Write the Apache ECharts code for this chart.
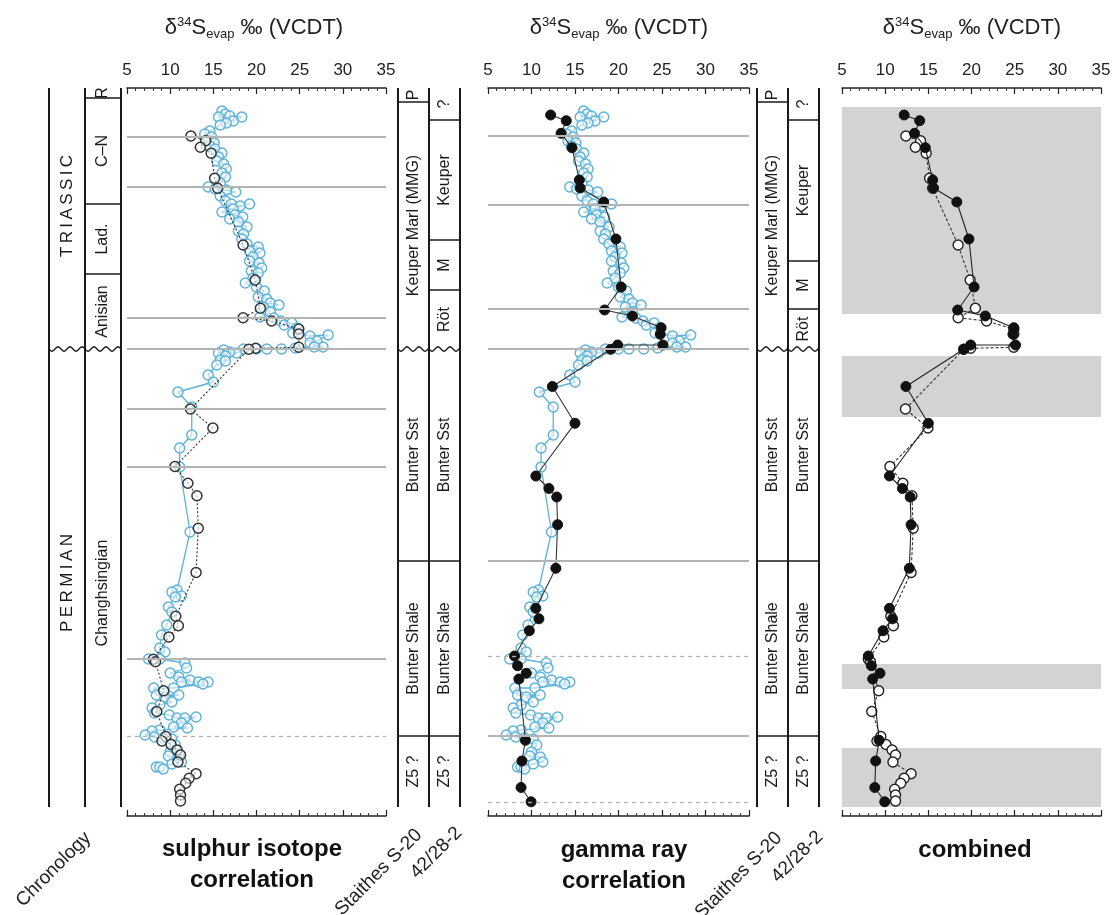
<!DOCTYPE html>
<html><head><meta charset="utf-8">
<script src="https://cdn.jsdelivr.net/npm/echarts@6/dist/echarts.min.js"></script>
<style>html,body{margin:0;padding:0;background:#fff}#c{width:1114px;height:915px}</style>
</head><body><div id="c"></div>
<script>
const FONT = 'Arial, "Liberation Sans", Helvetica, sans-serif';
const DEPTH_MAX = 72.8;   // relative stratigraphic depth units (top of section = 0)
const X_MIN = 5, X_MAX = 35, X_STEP = 5;

// Staithes S-20 high resolution d34S record (used in both correlation panels)
const staithesD34S = [16.0,16.4,15.6,16.9,18.3,17.3,16.5,15.8,14.6,14.0,14.8,14.2,15.1,14.6,15.2,16.0,15.6,15.4,16.2,16.5,16.0,16.4,15.8,14.4,15.2,16.5,17.6,15.8,16.4,17.1,18.1,19.2,17.3,16.0,17.5,18.4,16.9,17.9,18.9,17.9,18.5,18.3,18.9,20.2,19.2,20.4,19.6,19.2,20.3,20.6,19.4,20.2,19.6,18.7,20.0,20.9,20.2,21.2,21.6,22.6,20.8,21.6,20.4,22.0,22.8,23.2,24.1,24.7,24.2,26.2,28.3,27.0,26.2,27.7,26.7,24.5,22.9,21.2,20.0,18.5,17.7,16.9,16.2,15.6,16.4,15.8,16.4,15.4,14.4,15.0,10.9,12.5,12.5,11.1,11.1,12.3,10.8,10.2,11.3,10.6,9.8,10.2,9.6,9.0,8.8,9.4,7.5,8.8,11.7,11.9,10.0,11.0,12.3,11.3,13.3,14.4,13.8,10.4,8.1,8.4,11.0,9.4,10.2,8.8,7.9,8.2,9.9,10.8,11.7,13.0,11.3,10.4,12.0,8.8,7.9,7.1,8.2,9.2,10.2,10.6,10.0,9.8,11.0,11.3,10.2,8.4,8.8,9.2];
const staithesDepth = [2.3,2.6,2.9,2.8,2.9,3.3,3.5,3.7,4.3,4.6,4.9,5.3,5.5,5.8,6.1,6.5,6.9,7.3,7.6,8.1,8.5,8.9,9.5,9.9,10.1,10.2,10.4,10.8,11.3,11.6,11.8,11.6,12.1,12.4,12.7,12.9,13.1,13.4,13.9,14.3,14.6,15.1,15.6,15.9,16.3,16.5,16.9,17.3,17.5,18.0,18.3,18.5,19.0,19.5,19.9,20.3,20.9,21.1,21.5,21.7,21.9,22.4,22.9,23.0,23.3,23.7,23.5,24.0,24.5,24.8,24.7,25.3,25.5,25.9,25.9,26.0,26.1,26.1,26.1,26.1,26.5,26.4,26.2,26.5,26.8,27.2,27.3,27.7,28.7,29.4,30.4,31.9,34.7,36.0,37.9,44.4,50.2,50.4,50.8,50.9,51.9,52.4,53.7,54.7,56.0,56.4,57.1,57.1,57.5,58.0,58.5,58.9,59.2,59.4,59.4,59.4,59.6,60.0,60.0,60.7,60.7,60.9,61.4,61.7,62.0,62.5,62.7,63.0,63.0,62.9,63.5,63.9,64.0,64.2,64.3,64.7,64.9,65.0,65.1,65.7,66.4,66.8,66.9,67.4,67.6,67.9,67.9,68.1];

// Well 42/28-2 d34S placed by sulphur isotope correlation
const w4228SulphurD34S = [12.4,14.1,13.5,14.75,15.15,15.5,18.45,19.85,20.45,18.45,21.75,24.9,24.9,24.9,19.9,19.1,12.35,14.95,10.55,12.05,13.1,13.25,13.0,10.65,10.95,9.85,8.05,8.3,9.25,8.45,9.5,9.05,10.1,10.8,11.2,10.9,13.0,12.2,11.8,11.1,11.2,11.2];
const w4228SulphurDepth = [4.8,5.27,5.93,6.53,9.03,10.03,15.7,19.2,22.03,22.97,23.3,24.1,24.6,25.93,26.03,26.13,32.1,34.0,37.85,39.53,40.78,44.03,48.45,52.83,53.78,54.9,57.13,57.37,60.27,62.35,64.85,65.3,65.65,66.2,66.7,67.4,68.57,69.03,69.53,70.13,70.7,71.3];

// Well 42/28-2 d34S placed by gamma ray correlation
const w4228GammaD34S = [12.2,14.0,13.4,14.65,15.5,15.6,18.3,19.7,20.3,18.4,21.6,24.9,24.8,25.1,19.9,19.1,12.4,15.0,10.5,12.0,12.9,13.0,12.8,10.5,10.85,9.75,8.05,8.4,9.4,8.55,9.3,8.9,8.8,9.95];
const w4228GammaDepth = [2.7,3.27,4.53,5.97,9.2,10.0,11.4,15.1,19.9,22.2,22.8,23.97,24.63,25.7,25.7,26.13,29.85,33.53,38.8,40.05,40.9,43.67,48.03,52.03,53.08,54.27,56.8,57.77,58.53,59.1,65.23,67.3,69.95,71.38];

// correlation tie lines (depth)
const sulphurTies = [4.9,9.9,23.0,26.1,32.1,37.9,57.1];
const sulphurTiesDashed = [64.8];
const gammaTies = [4.8,11.7,22.1,26.1,47.3,64.8];
const gammaTiesDashed = [56.8,71.4];
// combined panel shaded intervals
const bandTop = [1.9,26.8,57.6,66.0];
const bandBase = [22.6,32.9,60.1,71.9];

// chronostratigraphy (label depth null = centred in its box)
const periodNames = ['T\u2009R\u2009I\u2009A\u2009S\u2009S\u2009I\u2009C','P\u2009E\u2009R\u2009M\u2009I\u2009A\u2009N'];
const periodTop = [0,26.1];
const periodBase = [26.1,71.9];
const periodBaseType = [2,0];
const periodLabelDepth = [11.8,49.5];
const stageNames = ['R','C–N','Lad.','Anisian','Changhsingian'];
const stageTop = [0,1.0,11.6,18.6,26.1];
const stageBase = [1.0,11.6,18.6,26.1,71.9];
const stageBaseType = [1,1,1,2,0];
const stageLabelDepth = [null,null,null,null,50.5];

// lithostratigraphy, sulphur correlation set
const s1StaithesNames = ['P','Keuper Marl (MMG)','Bunter Sst','Bunter Shale','Z5 ?'];
const s1StaithesTop = [0,1.4,26.1,47.3,64.8];
const s1StaithesBase = [1.4,26.1,47.3,64.8,71.9];
const s1StaithesType = [1,2,1,1,0];
const s1WellNames = ['?','Keuper','M','Röt','Bunter Sst','Bunter Shale','Z5 ?'];
const s1WellTop = [0,3.2,15.2,20.2,26.1,47.3,64.8];
const s1WellBase = [3.2,15.2,20.2,26.1,47.3,64.8,71.9];
const s1WellType = [1,1,1,2,1,1,0];
// lithostratigraphy, gamma correlation set
const s2StaithesNames = ['P','Keuper Marl (MMG)','Bunter Sst','Bunter Shale','Z5 ?'];
const s2StaithesTop = [0,1.4,26.1,47.3,64.8];
const s2StaithesBase = [1.4,26.1,47.3,64.8,71.9];
const s2StaithesType = [1,2,1,1,0];
const s2WellNames = ['?','Keuper','M','Röt','Bunter Sst','Bunter Shale','Z5 ?'];
const s2WellTop = [0,3.2,17.3,22.1,26.1,47.3,64.8];
const s2WellBase = [3.2,17.3,22.1,26.1,47.3,64.8,71.9];
const s2WellType = [1,1,1,2,1,1,0];

function xy(xs, ys){ return xs.map((v,i)=>[v, ys[i]]); }

function colData(col, tops, bases, types){ return tops.map((t,i)=>[col, t, bases[i], types[i]]); }

function columnRender(labels, fontSize, labelDepth){
  return function(params, api){
    const c = api.value(0), t = api.value(1), b = api.value(2), bt = api.value(3);
    const pA = api.coord([c, t]), pB = api.coord([c+1, b]);
    const x0 = pA[0], x1 = pB[0], y0 = pA[1], y1 = pB[1];
    const ch = [
      {type:'line', shape:{x1:x0,y1:y0,x2:x0,y2:y1}, style:{stroke:'#1a1a1a', lineWidth:2}},
      {type:'line', shape:{x1:x1,y1:y0,x2:x1,y2:y1}, style:{stroke:'#1a1a1a', lineWidth:2}}
    ];
    if (bt === 1) ch.push({type:'line', shape:{x1:x0,y1:y1,x2:x1,y2:y1}, style:{stroke:'#1a1a1a', lineWidth:1.5}});
    if (bt === 2) {
      const pts = [];
      for (let x = x0; x <= x1 + 0.01; x += 1) pts.push([x, y1 + 2.2*Math.sin((x - x0)/12*2*Math.PI)]);
      ch.push({type:'polyline', shape:{points:pts}, style:{stroke:'#1a1a1a', lineWidth:1.4, fill:null}});
    }
    const lab = labels[params.dataIndex];
    let ly = (y0+y1)/2;
    if (labelDepth && labelDepth[params.dataIndex] != null) ly = api.coord([c, labelDepth[params.dataIndex]])[1];
    if (lab) ch.push({type:'text', x:(x0+x1)/2, y:ly, rotation:Math.PI/2,
      style:{text:lab, fill:'#1a1a1a', fontSize:fontSize, fontFamily:FONT, align:'center', verticalAlign:'middle'}});
    return {type:'group', children:ch};
  };
}

const grids = [
  {left:127, top:88, width:259, height:728},
  {left:488, top:88, width:261, height:728},
  {left:842, top:88, width:259, height:728},
  {left:49, top:88, width:72, height:728},
  {left:398, top:88, width:62, height:728},
  {left:757, top:88, width:62, height:728}
];

function valueAxis(g, pos){
  return {type:'value', gridIndex:g, position:pos, min:X_MIN, max:X_MAX, interval:X_STEP,
    axisLine:{show:true, onZero:false, lineStyle:{color:'#222', width:1.5}},
    axisTick:{show:true, inside:true, length:6, lineStyle:{color:'#222', width:1.2}},
    minorTick:{show:true, splitNumber:5, length:3, lineStyle:{color:'#333', width:1}},
    axisLabel:{show: pos==='top', fontSize:17, color:'#222', margin:9, fontFamily:FONT},
    splitLine:{show:false}, minorSplitLine:{show:false}};
}
const xAxes = [];
for (let g=0; g<3; g++){ xAxes.push(valueAxis(g,'top')); xAxes.push(valueAxis(g,'bottom')); }
for (let g=3; g<6; g++){ xAxes.push({type:'value', gridIndex:g, min:0, max:2, show:false}); }
const yAxes = [];
for (let g=0; g<6; g++){ yAxes.push({type:'value', gridIndex:g, min:0, max:DEPTH_MAX, inverse:true, show:false}); }

function tieSeries(xi, yi, solid, dashed){
  return {type:'line', xAxisIndex:xi, yAxisIndex:yi, data:[], z:1, silent:true,
    markLine:{silent:true, symbol:['none','none'], label:{show:false}, animation:false,
      data: solid.map(v=>({yAxis:v, lineStyle:{color:'#b4b4b4', width:2, type:'solid'}}))
        .concat(dashed.map(v=>({yAxis:v, lineStyle:{color:'#b4b4b4', width:1.3, type:[4,4]}})))}};
}

const BLUE = '#5bb2da';
const SYM = 10;
function blueSeries(xi, yi){
  return {type:'line', xAxisIndex:xi, yAxisIndex:yi, z:2, data:xy(staithesD34S, staithesDepth),
    symbol:'circle', symbolSize:SYM, lineStyle:{color:BLUE, width:1.3},
    itemStyle:{color:'rgba(255,255,255,0.55)', borderColor:BLUE, borderWidth:1.4}, animation:false};
}

const series = [
  tieSeries(0,0,sulphurTies,sulphurTiesDashed),
  blueSeries(0,0),
  {type:'line', xAxisIndex:0, yAxisIndex:0, z:3, data:xy(w4228SulphurD34S, w4228SulphurDepth),
    symbol:'circle', symbolSize:SYM, lineStyle:{color:'#333', width:1.1, type:[2,2]},
    itemStyle:{color:'rgba(255,255,255,0.6)', borderColor:'#333', borderWidth:1.5}, animation:false},

  tieSeries(2,1,gammaTies,gammaTiesDashed),
  blueSeries(2,1),
  {type:'line', xAxisIndex:2, yAxisIndex:1, z:3, data:xy(w4228GammaD34S, w4228GammaDepth),
    symbol:'circle', symbolSize:SYM, lineStyle:{color:'#333', width:1.1},
    itemStyle:{color:'#111', borderColor:'#111', borderWidth:1}, animation:false},

  {type:'line', xAxisIndex:4, yAxisIndex:2, data:[], z:0, silent:true,
    markArea:{silent:true, itemStyle:{color:'#d3d3d3'}, animation:false,
      data: bandTop.map((t,i)=>[{yAxis:t},{yAxis:bandBase[i]}])}},
  {type:'line', xAxisIndex:4, yAxisIndex:2, z:3, data:xy(w4228SulphurD34S, w4228SulphurDepth),
    symbol:'circle', symbolSize:SYM, lineStyle:{color:'#333', width:1.1, type:[3,2]},
    itemStyle:{color:'#fff', borderColor:'#222', borderWidth:1.4}, animation:false},
  {type:'line', xAxisIndex:4, yAxisIndex:2, z:4, data:xy(w4228GammaD34S, w4228GammaDepth),
    symbol:'circle', symbolSize:SYM, lineStyle:{color:'#222', width:1.1},
    itemStyle:{color:'#111', borderColor:'#111', borderWidth:1}, animation:false},

  {type:'custom', xAxisIndex:6, yAxisIndex:3, renderItem:columnRender(periodNames,17,periodLabelDepth),
    data:colData(0, periodTop, periodBase, periodBaseType), encode:{x:0, y:[1,2]}, silent:true, animation:false},
  {type:'custom', xAxisIndex:6, yAxisIndex:3, renderItem:columnRender(stageNames,16,stageLabelDepth),
    data:colData(1, stageTop, stageBase, stageBaseType), encode:{x:0, y:[1,2]}, silent:true, animation:false},
  {type:'custom', xAxisIndex:7, yAxisIndex:4, renderItem:columnRender(s1StaithesNames,16),
    data:colData(0, s1StaithesTop, s1StaithesBase, s1StaithesType), encode:{x:0, y:[1,2]}, silent:true, animation:false},
  {type:'custom', xAxisIndex:7, yAxisIndex:4, renderItem:columnRender(s1WellNames,16),
    data:colData(1, s1WellTop, s1WellBase, s1WellType), encode:{x:0, y:[1,2]}, silent:true, animation:false},
  {type:'custom', xAxisIndex:8, yAxisIndex:5, renderItem:columnRender(s2StaithesNames,16),
    data:colData(0, s2StaithesTop, s2StaithesBase, s2StaithesType), encode:{x:0, y:[1,2]}, silent:true, animation:false},
  {type:'custom', xAxisIndex:8, yAxisIndex:5, renderItem:columnRender(s2WellNames,16),
    data:colData(1, s2WellTop, s2WellBase, s2WellType), encode:{x:0, y:[1,2]}, silent:true, animation:false}
];

const titleRich = {
  d:{fontSize:22, fontFamily:FONT, fill:'#222'},
  sup:{fontSize:13, fontFamily:FONT, fill:'#222', padding:[0,0,11,0]},
  sub:{fontSize:13, fontFamily:FONT, fill:'#222', padding:[13,0,0,0]}
};
const titleText = '{d|δ}{sup|34}{d|S}{sub|evap}{d| ‰ (VCDT)}';
function title(x){ return {type:'text', x:x, y:28, style:{text:titleText, rich:titleRich, align:'center', verticalAlign:'middle'}}; }
function rotLabel(text, x, y){ return {type:'text', x:x, y:y, rotation:Math.PI/4,
  style:{text:text, fontSize:19, fontFamily:FONT, fill:'#222', align:'right', verticalAlign:'middle'}}; }
function bold(text, x, y){ return {type:'text', x:x, y:y, style:{text:text, fontSize:24, fontWeight:'bold', fontFamily:FONT,
  fill:'#111', align:'center', verticalAlign:'middle', lineHeight:31}}; }

const chart = echarts.init(document.getElementById('c'), null, {renderer:'canvas'});
chart.setOption({
  animation:false,
  backgroundColor:'#fff',
  grid:grids, xAxis:xAxes, yAxis:yAxes, series:series,
  graphic:{elements:[
    title(254), title(619), title(972),
    rotLabel('Chronology', 88, 835),
    rotLabel('Staithes S-20', 419, 832),
    rotLabel('42/28-2', 459, 830),
    rotLabel('Staithes S-20', 779, 835),
    rotLabel('42/28-2', 820, 834),
    bold('sulphur isotope\ncorrelation', 252, 865),
    bold('gamma ray\ncorrelation', 624, 866),
    bold('combined', 975, 850)
  ]}
});
</script></body></html>
